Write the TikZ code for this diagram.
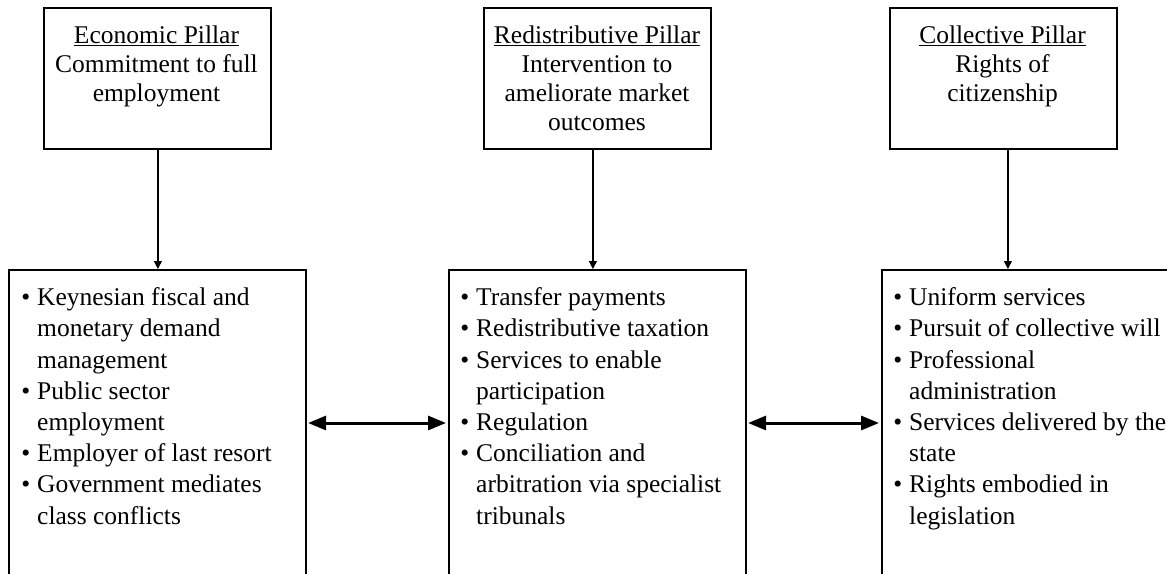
\documentclass[tikz,border=0pt]{standalone}
\usepackage{fontspec}
\setmainfont{Liberation Serif}
\usetikzlibrary{arrows.meta}
\newcommand{\bul}{\llap{\textbullet\hspace{7pt}}}
\tikzset{
  pillar/.style={draw, line width=1.8pt, minimum width=227pt, minimum height=141pt, anchor=north west, inner sep=0pt},
  listbox/.style={draw, line width=1.6pt, minimum width=297pt, minimum height=340pt, anchor=north west, inner sep=0pt},
  headtext/.style={anchor=north, inner sep=0pt, align=center, font=\fontsize{25.5}{29}\selectfont},
  listtext/.style={anchor=north west, inner sep=0pt, align=left, font=\fontsize{25.5}{31.2}\selectfont},
  down/.style={-{Triangle[length=8pt,width=8pt]}, line width=1.2pt},
  twoway/.style={{Triangle[length=18pt,width=14pt]}-{Triangle[length=18pt,width=14pt]}, line width=3pt, shorten <=1.5pt, shorten >=2pt},
}
\begin{document}
\begin{tikzpicture}[x=1pt,y=1pt]
\useasboundingbox (0,0) rectangle (1167,-573);
% top boxes
\node[pillar] (t1) at (43,-7) {};
\node[pillar] (t2) at (483,-7) {};
\node[pillar] (t3) at (889,-7) {};
\node[headtext] (h1) at (156.5,-25.5) {\underline{Economic Pillar}\\Commitment to full\\employment};
\node[headtext] (h2) at (597,-25.5) {\underline{Redistributive Pillar}\\Intervention to\\ameliorate market\\outcomes};
\node[headtext] (h3) at (1002.5,-25.5) {\underline{Collective Pillar}\\Rights of\\citizenship};
% bottom boxes
\node[listbox] (b1) at (8,-269) {};
\node[listbox] (b2) at (448,-269) {};
\node[listbox, minimum width=330pt] (b3) at (881,-269) {};
\node[listtext] (l1) at (37,-287.5) {\bul Keynesian fiscal and\\monetary demand\\management\\\bul Public sector\\employment\\\bul Employer of last resort\\\bul Government mediates\\class conflicts};
\node[listtext] (l2) at (476,-287.5) {\bul Transfer payments\\\bul Redistributive taxation\\\bul Services to enable\\participation\\\bul Regulation\\\bul Conciliation and\\arbitration via specialist\\tribunals};
\node[listtext] (l3) at (909,-287.5) {\bul Uniform services\\\bul Pursuit of collective will\\\bul Professional\\administration\\\bul Services delivered by the\\state\\\bul Rights embodied in\\legislation};
% vertical connectors
\coordinate (a1) at ([xshift=0.5pt]t1.south);
\coordinate (a2) at ([xshift=-4.5pt]t2.south);
\coordinate (a3) at ([xshift=4.5pt]t3.south);
\draw[down] (a1) -- (a1 |- b1.north);
\draw[down] (a2) -- (a2 |- b2.north);
\draw[down] (a3) -- (a3 |- b3.north);
% horizontal connectors
\coordinate (m) at (0,-423);
\draw[twoway] (b1.east |- m) -- (b2.west |- m);
\draw[twoway] (b2.east |- m) -- (b3.west |- m);
\end{tikzpicture}
\end{document}
